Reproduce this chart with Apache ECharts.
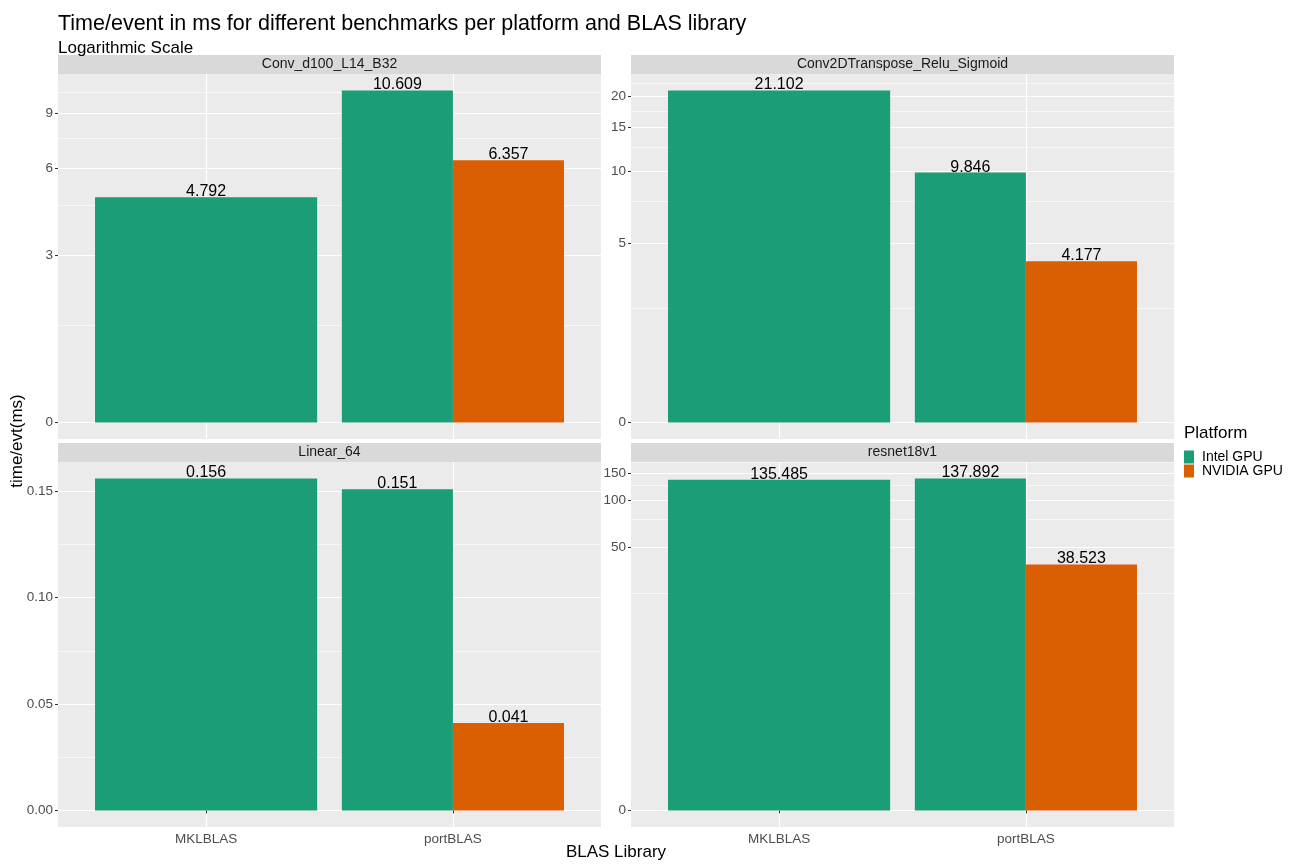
<!DOCTYPE html>
<html>
<head>
<meta charset="utf-8">
<script src="https://cdn.jsdelivr.net/npm/echarts@6/dist/echarts.min.js"></script>
<style>html,body{margin:0;padding:0;background:#fff}#chart{width:1297px;height:866px}</style>
</head>
<body>
<div id="chart"></div>
<script>
// ---------- data ----------
const benchmarks = ['Conv_d100_L14_B32', 'Conv2DTranspose_Relu_Sigmoid', 'Linear_64', 'resnet18v1'];
const libraries = ['MKLBLAS', 'portBLAS'];
const platforms = ['Intel GPU', 'NVIDIA GPU'];
// per benchmark: [MKLBLAS, portBLAS]
const intelGPU = [[4.792, 10.609], [21.102, 9.846], [0.156, 0.151], [135.485, 137.892]];
const nvidiaGPU = [[null, 6.357], [null, 4.177], [null, 0.041], [null, 38.523]];
const majorTicks = [[0, 3, 6, 9], [0, 5, 10, 15, 20], [0, 0.05, 0.10, 0.15], [0, 50, 100, 150]];
const majorLabels = [['0', '3', '6', '9'], ['0', '5', '10', '15', '20'], ['0.00', '0.05', '0.10', '0.15'], ['0', '50', '100', '150']];
const minorTicks = [[1.5, 4.5, 7.5, 10.5], [2.5, 7.5, 12.5, 17.5, 22.5], [0.025, 0.075, 0.125], [25, 75, 125, 175]];
const colors = ['#1B9E77', '#D95F02'];

// ---------- helpers ----------
const FONT = 'Liberation Sans, Arial, Helvetica, sans-serif';
const tr = v => Math.asinh(v / 2);   // pseudo-log transform (sigma = 1)
const valuesByPlatform = [intelGPU, nvidiaGPU];

const panelW = 543, panelH = 365, stripH = 19;
const lefts = [58, 631, 58, 631];
const tops = [74, 74, 462, 462];

const grids = [], xAxes = [], yAxes = [], series = [], graphics = [];

benchmarks.forEach((b, p) => {
  grids.push({left: lefts[p], top: tops[p], width: panelW, height: panelH,
    show: true, backgroundColor: '#EBEBEB', borderWidth: 0, containLabel: false});
  const bottomRow = p >= 2;
  xAxes.push({
    gridIndex: p, type: 'value', min: 0.4, max: 2.6,
    axisLine: {show: false},
    axisTick: {show: bottomRow, length: 3, lineStyle: {color: '#333333', width: 1}, customValues: [1, 2]},
    axisLabel: {show: bottomRow, customValues: [1, 2], formatter: v => libraries[Math.round(v) - 1],
      color: '#4D4D4D', fontSize: 13.5, fontFamily: FONT, margin: 5},
    splitLine: {show: true, lineStyle: {color: '#FFFFFF', width: 1.2}}
  });
  let maxT = 0;
  valuesByPlatform.forEach(arr => arr[p].forEach(v => { if (v != null) maxT = Math.max(maxT, tr(v)); }));
  const ymin = -0.05 * maxT, ymax = maxT * 1.05;
  const majT = majorTicks[p].map(tr);
  yAxes.push({
    gridIndex: p, type: 'value', min: ymin, max: ymax, position: 'left',
    axisLine: {show: false},
    axisTick: {show: true, length: 3, lineStyle: {color: '#333333', width: 1}, customValues: majT},
    axisLabel: {customValues: majT, color: '#4D4D4D', fontSize: 13.5, fontFamily: FONT, margin: 5,
      formatter: v => {
        let best = 0, bd = Infinity;
        majT.forEach((t, i) => { const d = Math.abs(t - v); if (d < bd) { bd = d; best = i; } });
        return majorLabels[p][best];
      }},
    splitLine: {show: true, lineStyle: {color: '#FFFFFF', width: 1.2}}
  });
  yAxes.push({
    gridIndex: p, type: 'value', min: ymin, max: ymax, position: 'right',
    axisLine: {show: false},
    axisTick: {show: false, customValues: minorTicks[p].map(tr)},
    axisLabel: {show: false, customValues: minorTicks[p].map(tr)},
    splitLine: {show: true, lineStyle: {color: '#FFFFFF', width: 0.6}}
  });

  platforms.forEach((plat, k) => {
    const data = [];
    libraries.forEach((lib, j) => {
      const v = valuesByPlatform[k][p][j];
      if (v == null) return;
      const present = valuesByPlatform.map(a => a[p][j]).map((x, i) => x != null ? i : -1).filter(i => i >= 0);
      const n = present.length, slot = present.indexOf(k);
      const x0 = (j + 1) - 0.45 + slot * 0.9 / n;
      data.push([j + 1, tr(v), v, x0, x0 + 0.9 / n]);
    });
    series.push({
      type: 'custom', name: plat, xAxisIndex: p, yAxisIndex: 2 * p, clip: false,
      itemStyle: {color: colors[k]},
      encode: {x: 0, y: 1},
      data: data,
      renderItem: (params, api) => {
        const y = api.value(1), raw = api.value(2), x0 = api.value(3), x1 = api.value(4);
        const pTop = api.coord([x0, y]);
        const pBot = api.coord([x1, 0]);
        return {
          type: 'group', children: [
            {type: 'rect', shape: {x: pTop[0], y: pTop[1], width: pBot[0] - pTop[0], height: pBot[1] - pTop[1]},
              style: {fill: colors[k]}},
            {type: 'text', x: (pTop[0] + pBot[0]) / 2, y: pTop[1] + 2.5,
              style: {text: raw.toFixed(3), fontSize: 16, fontFamily: FONT, fill: '#000000', align: 'center', verticalAlign: 'bottom'}}
          ]
        };
      }
    });
  });

  // facet strip
  graphics.push({type: 'rect', left: lefts[p], top: tops[p] - stripH, shape: {width: panelW, height: stripH},
    style: {fill: '#D9D9D9'}, silent: true});
  graphics.push({type: 'text', x: lefts[p] + panelW / 2, y: tops[p] - stripH / 2,
    style: {text: b, fontSize: 14, fontFamily: FONT, fill: '#1A1A1A', align: 'center', verticalAlign: 'middle'}, silent: true});
});

// axis titles & legend title
graphics.push({type: 'text', x: 616, y: 852,
  style: {text: 'BLAS Library', fontSize: 17, fontFamily: FONT, fill: '#000', align: 'center', verticalAlign: 'middle'}});
graphics.push({type: 'text', x: 17, y: 441, rotation: Math.PI / 2,
  style: {text: 'time/evt(ms)', fontSize: 17, fontFamily: FONT, fill: '#000', align: 'center', verticalAlign: 'middle'}});
graphics.push({type: 'text', x: 1184, y: 433,
  style: {text: 'Platform', fontSize: 17, fontFamily: FONT, fill: '#000', align: 'left', verticalAlign: 'middle'}});

const chart = echarts.init(document.getElementById('chart'), null, {renderer: 'canvas'});
chart.setOption({
  animation: false,
  backgroundColor: '#FFFFFF',
  title: {
    text: 'Time/event in ms for different benchmarks per platform and BLAS library',
    subtext: 'Logarithmic Scale',
    left: 53, top: 7, itemGap: 2,
    textStyle: {fontSize: 21.5, fontWeight: 'normal', color: '#000', fontFamily: FONT, lineHeight: 24},
    subtextStyle: {fontSize: 17, color: '#000', fontFamily: FONT, lineHeight: 20}
  },
  legend: {
    data: platforms, orient: 'vertical', left: 1184, top: 450, padding: 0,
    itemWidth: 10, itemHeight: 13, itemGap: 0, icon: 'rect', selectedMode: false,
    textStyle: {fontSize: 14, color: '#000', fontFamily: FONT, lineHeight: 13, padding: [0, 0, 0, 3]}
  },
  grid: grids, xAxis: xAxes, yAxis: yAxes, series: series,
  graphic: graphics
});
</script>
</body>
</html>
